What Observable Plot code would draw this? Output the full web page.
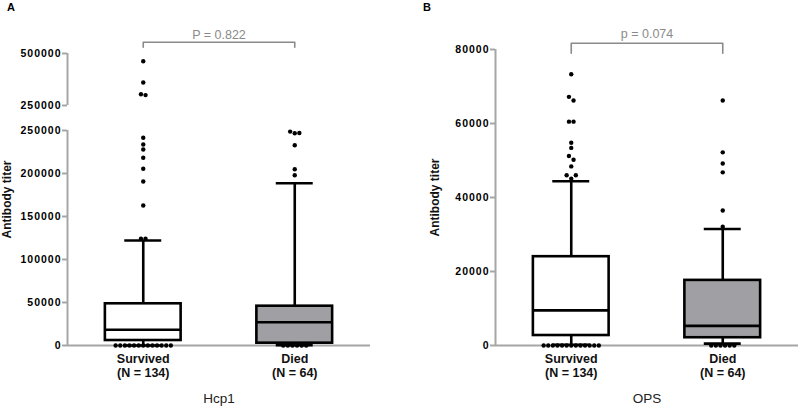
<!DOCTYPE html>
<html><head><meta charset="utf-8">
<script src="https://cdn.jsdelivr.net/npm/d3@7"></script>
<script src="https://cdn.jsdelivr.net/npm/@observablehq/plot@0.6"></script>
<style>
html,body{margin:0;padding:0;background:#fff;}
#wrap{position:relative;width:800px;height:406px;overflow:hidden;font-family:"Liberation Sans",Arial,Helvetica,sans-serif;}
#wrap svg{position:absolute;top:0;}
.panel{position:absolute;top:2px;font-weight:bold;font-size:11px;line-height:11px;color:#000;}
g[aria-label="y-axis tick label"]{font-weight:bold;font-size:10.5px;letter-spacing:1px;}
</style></head><body><div id="wrap"></div>
<script>
// ---------- data ----------
const groups = ["Survived", "Died"];
const groupN = [134, 64];
const groupFill = ["#ffffff", "#a0a0a4"];

// Panel A: Hcp1 (10-90 percentile whiskers)
const hcpQ1 = [5800, 2700];
const hcpMedian = [18300, 27100];
const hcpQ3 = [48500, 45700];
const hcpLow = [0, 300];
const hcpHigh = [122100, 188700];
const hcpOutSurvived = [463000, 360600, 304000, 300000, 241500, 233700, 227900, 218300, 205500, 190700, 162800, 124100, 124100,
  0, 0, 0, 0, 0, 0, 0, 0, 0, 0, 0, 0, 0];
const hcpOutDied = [248700, 246800, 247100, 232900, 205000, 198000, 0, 0, 0, 0, 0, 0];
const hcpTicksUpper = [250000, 500000];
const hcpTicksLower = [0, 50000, 100000, 150000, 200000, 250000];
const hcpP = "P = 0.822";
const hcpBracket = {top: 554000, tip: 530000, label: 590000};

// Panel B: OPS
const opsQ1 = [2700, 2100];
const opsMedian = [9500, 5300];
const opsQ3 = [24000, 17600];
const opsLow = [200, 500];
const opsHigh = [44400, 31500];
const opsOutSurvived = [73300, 67200, 66200, 60500, 60500, 54800, 53400, 51200, 50200, 48400, 46000, 45100, 46000,
  0, 0, 0, 0, 0, 0, 0, 0, 0, 0, 0, 0, 0];
const opsOutDied = [66200, 52200, 49200, 46800, 36500, 32100, 0, 0, 0, 0, 0, 0];
const opsTicks = [0, 20000, 40000, 60000, 80000];
const opsP = "p = 0.074";
const opsBracket = {top: 81700, tip: 79000, label: 84100};

const yTitle = "Antibody titer";
const panelTitles = ["Hcp1", "OPS"];
const panelLetters = ["A", "B"];

// ---------- drawing ----------
const FONT = '"Liberation Sans", Arial, Helvetica, sans-serif';
const AX = "#a6a6a6";
const ANN = "#8a8a8a";
const xDomain = [0.5, 2.5];
const pos = groups.map((g, i) => i + 1);
const boxHalf = 0.25, capHalf = 0.122, LW = 2.6;
const wrap = document.getElementById("wrap");

function stats(q1, med, q3, lo, hi) {
  return groups.map((g, i) => ({group: g, n: groupN[i], pos: pos[i], fill: groupFill[i],
    q1: q1[i], median: med[i], q3: q3[i], lo: lo[i], hi: hi[i]}));
}

function dodge(values, center, yPx, pxPerUnit, spacing = 4.6) {
  const out = [];
  let cluster = [];
  const flush = () => {
    cluster.forEach((v, i) => out.push({x: center + (i - (cluster.length - 1) / 2) * spacing / pxPerUnit, y: v}));
    cluster = [];
  };
  for (const v of values) {
    if (cluster.length && Math.abs(yPx(v) - yPx(cluster[0])) >= spacing) flush();
    cluster.push(v);
  }
  flush();
  return out;
}

function layout(o) {
  const yPx = d3.scaleLinear().domain(o.yDomain).range([o.height - o.mb, o.mt]);
  const pxPerUnit = (o.width - o.ml - o.mr) / (xDomain[1] - xDomain[0]);
  const dots = [];
  o.outliers.forEach((vals, i) => {
    const inRange = vals.filter(v => v >= o.yDomain[0] && v <= o.yDomain[1]);
    dots.push(...dodge(inRange, pos[i], yPx, pxPerUnit));
  });
  return dots;
}

function yAxisMarks(ticks) {
  return [
    Plot.ruleX([xDomain[0]], {stroke: AX, strokeWidth: 2}),
    Plot.axisY({ticks, tickFormat: d3.format("d"), tickSize: 5, tickPadding: 1,
      stroke: AX, strokeWidth: 2, fill: "#000", label: null})
  ];
}

function boxMarks(S) {
  return [
    Plot.ruleX(S, {x: "pos", y1: "q3", y2: "hi", strokeWidth: LW}),
    Plot.ruleX(S, {x: "pos", y1: "lo", y2: "q1", strokeWidth: LW}),
    Plot.ruleY(S, {y: "hi", x1: d => d.pos - capHalf, x2: d => d.pos + capHalf, strokeWidth: LW}),
    Plot.ruleY(S, {y: "lo", x1: d => d.pos - capHalf, x2: d => d.pos + capHalf, strokeWidth: LW}),
    Plot.rect(S, {x1: d => d.pos - boxHalf, x2: d => d.pos + boxHalf, y1: "q1", y2: "q3",
      fill: "fill", stroke: "#000", strokeWidth: LW}),
    Plot.ruleY(S, {y: "median", x1: d => d.pos - boxHalf, x2: d => d.pos + boxHalf, strokeWidth: LW})
  ];
}

function labelMarks(S, title, yLabelDy) {
  return [
    Plot.text(S, {x: "pos", frameAnchor: "bottom", text: d => `${d.group}\n(N = ${d.n})`,
      lineAnchor: "top", dy: 8, fontWeight: "bold", fontSize: 12.5, lineHeight: 1.09, fill: "#111"}),
    Plot.text([title], {text: d => d, frameAnchor: "bottom", lineAnchor: "top", dy: 47.5,
      fontSize: 13.5, fill: "#222"}),
    Plot.text([yTitle], {text: d => d, frameAnchor: "left", textAnchor: "middle", rotate: -90,
      dx: -60, dy: yLabelDy, fontWeight: "bold", fontSize: 12, fill: "#111"})
  ];
}

function bracketMarks(br, label) {
  const pts = [[pos[0], br.tip], [pos[0], br.top], [pos[1], br.top], [pos[1], br.tip]];
  return [
    Plot.line(pts, {x: d => d[0], y: d => d[1], stroke: ANN, strokeWidth: 1.6}),
    Plot.text([label], {text: d => d, x: (pos[0] + pos[1]) / 2, y: br.label, fontSize: 12.5, fill: ANN})
  ];
}

function place(svg, left) {
  svg.style.left = left + "px";
  wrap.appendChild(svg);
}

const common = {
  x: {domain: xDomain, axis: null},
  color: {type: "identity"},
  style: {fontFamily: FONT, fontSize: "10px", overflow: "visible", background: "transparent"}
};

// Panel A upper segment
{
  const o = {width: 400, height: 115, ml: 67, mr: 30, mt: 53, mb: 10, yDomain: [250000, 500000],
    outliers: [hcpOutSurvived, hcpOutDied]};
  const dots = layout(o);
  place(Plot.plot({...common, width: o.width, height: o.height, marginLeft: o.ml, marginRight: o.mr,
    marginTop: o.mt, marginBottom: o.mb, y: {domain: o.yDomain, axis: null},
    marks: [
      ...yAxisMarks(hcpTicksUpper),
      Plot.dot(dots, {x: "x", y: "y", r: 2.2, fill: "#000", stroke: "none"}),
      ...bracketMarks(hcpBracket, hcpP)
    ]}), 0);
}
// Panel A lower segment
{
  const o = {width: 400, height: 406, ml: 67, mr: 30, mt: 130, mb: 61, yDomain: [0, 250000],
    outliers: [hcpOutSurvived, hcpOutDied]};
  const dots = layout(o);
  const S = stats(hcpQ1, hcpMedian, hcpQ3, hcpLow, hcpHigh);
  place(Plot.plot({...common, width: o.width, height: o.height, marginLeft: o.ml, marginRight: o.mr,
    marginTop: o.mt, marginBottom: o.mb, y: {domain: o.yDomain, axis: null},
    marks: [
      ...yAxisMarks(hcpTicksLower),
      Plot.ruleY([0], {stroke: AX, strokeWidth: 2}),
      ...boxMarks(S),
      Plot.dot(dots, {x: "x", y: "y", r: 2.2, fill: "#000", stroke: "none"}),
      ...labelMarks(S, panelTitles[0], -38.5)
    ]}), 0);
}
// Panel B
{
  const o = {width: 400, height: 406, ml: 95, mr: 2, mt: 49, mb: 61, yDomain: [0, 80000],
    outliers: [opsOutSurvived, opsOutDied]};
  const dots = layout(o);
  const S = stats(opsQ1, opsMedian, opsQ3, opsLow, opsHigh);
  place(Plot.plot({...common, width: o.width, height: o.height, marginLeft: o.ml, marginRight: o.mr,
    marginTop: o.mt, marginBottom: o.mb, y: {domain: o.yDomain, axis: null},
    marks: [
      ...yAxisMarks(opsTicks),
      Plot.ruleY([0], {stroke: AX, strokeWidth: 2}),
      ...boxMarks(S),
      Plot.dot(dots, {x: "x", y: "y", r: 2.2, fill: "#000", stroke: "none"}),
      ...labelMarks(S, panelTitles[1], 0),
      ...bracketMarks(opsBracket, opsP)
    ]}), 400);
}

// panel letters
[[panelLetters[0], 7], [panelLetters[1], 423]].forEach(([t, left]) => {
  const d = document.createElement("div");
  d.className = "panel";
  d.style.left = left + "px";
  d.textContent = t;
  wrap.appendChild(d);
});
</script>
</body></html>
